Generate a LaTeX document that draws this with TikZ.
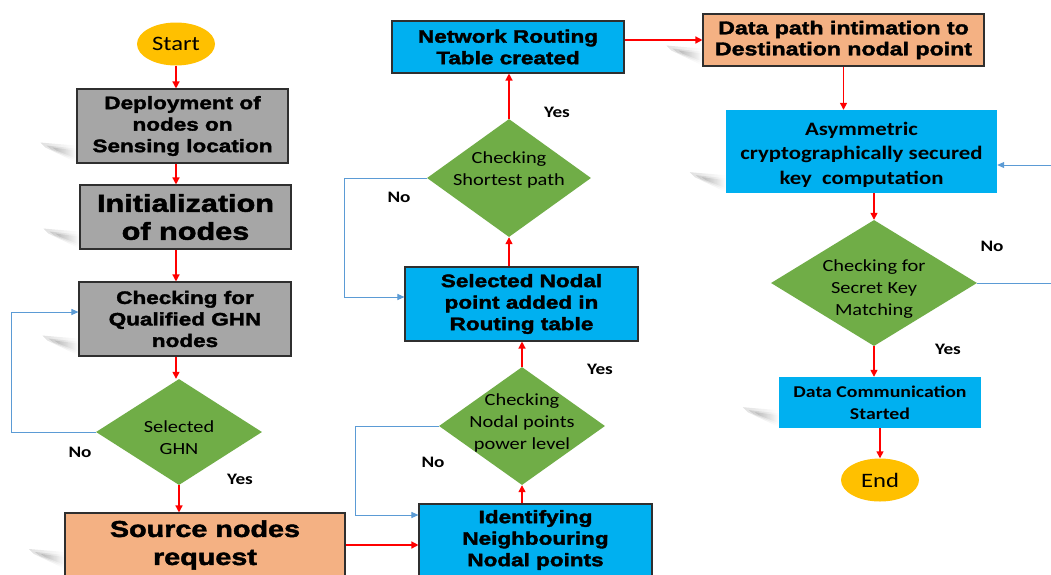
\documentclass[tikz,border=0pt]{standalone}
\usepackage{fontspec}
\setmainfont{Carlito}[FakeStretch=1.2]
\newfontfamily\blk{Liberation Sans}[BoldFeatures={FakeBold=2,FakeStretch=1.25}]
\usetikzlibrary{shapes.geometric,arrows.meta,calc,fadings,backgrounds}
\definecolor{gbox}{HTML}{A6A6A6}
\definecolor{bbox}{HTML}{00B0F0}
\definecolor{sbox}{HTML}{F4B183}
\definecolor{dgreen}{HTML}{70AD47}
\definecolor{yell}{HTML}{FFC000}
\definecolor{loopc}{HTML}{5B9BD5}
\definecolor{edge}{HTML}{2F2F2F}
\tikzset{
  fbox/.style={rectangle, draw=edge, line width=1.1pt, align=center, inner sep=0pt},
  nobox/.style={rectangle, align=center, inner sep=0pt},
  h18/.style={font=\blk\bfseries\fontsize{18}{21.5}\selectfont},
  h17/.style={font=\blk\bfseries\fontsize{18.5}{21}\selectfont},
  h25/.style={font=\blk\bfseries\fontsize{24.5}{28}\selectfont},
  cal/.style={font=\bfseries\fontsize{19}{24.5}\selectfont},
  calr/.style={font=\fontsize{17}{22}\selectfont},
  dia/.style={diamond, fill=dgreen, inner sep=0pt},
  term/.style={ellipse, fill=yell, inner sep=0pt, minimum width=78pt, minimum height=43pt, font=\fontsize{20.5}{24}\selectfont},
  flow/.style={draw=red, line width=1.4pt, -{Triangle[length=7pt,width=7pt]}},
  loopl/.style={draw=loopc, line width=1pt, -{Triangle[length=7pt,width=6pt]}},
  lab/.style={font=\bfseries\fontsize{16}{20}\selectfont, inner sep=0pt},
  shadowfill/.style={fill=black, fill opacity=0.12, path fading=east},
}
\newcommand\shadowat[1]{%
  \path[shadowfill] ($#1+(0,-1)$) -- ++(0,-17) -- ++(-36,-3) -- ++(5,5) -- cycle;
  \path[shadowfill] ($#1+(0,-3)$) -- ++(0,-12) -- ++(-30,-3) -- ++(5,4) -- cycle;
  \path[shadowfill] ($#1+(0,-5)$) -- ++(0,-8) -- ++(-24,-3) -- ++(4,3) -- cycle;}
\newcommand\boxshadow[1]{\shadowat{(#1.south west)}}
\begin{document}
\begin{tikzpicture}[x=1pt,y=-1pt]
\useasboundingbox (0,0) rectangle (1051,574);

% column 1
\node[term] (start) at (176,44) {Start};
\node[fbox, fill=gbox, h18, minimum width=211pt, minimum height=74pt] (dep) at (182.5,126) {Deployment of\\nodes on\\Sensing location};
\node[fbox, fill=gbox, h25, minimum width=211pt, minimum height=64pt] (init) at (185.5,217) {Initialization\\of nodes};
\node[fbox, fill=gbox, h18, minimum width=212pt, minimum height=74pt] (qual) at (185,319) {Checking for\\Qualified GHN\\nodes};
\node[dia, minimum width=166pt, minimum height=106pt] (ghn) at (179,432) {};
\node[calr, inner sep=0pt, align=center] (ghnt) at (179,438) {Selected\\GHN};
\node[fbox, fill=sbox, font=\blk\bfseries\fontsize{23}{28}\selectfont, minimum width=280pt, minimum height=64pt] (src) at (205,545) {Source nodes\\request};

% column 2
\node[fbox, fill=bbox, h18, minimum width=233pt, minimum height=72pt] (ident) at (535.5,540) {Identifying\\Neighbouring\\Nodal points};
\node[dia, minimum width=166pt, minimum height=118pt] (pw) at (522,426) {};
\node[calr, align=center] (pwt) at (522,423) {Checking\\Nodal points\\power level};
\node[fbox, fill=bbox, h18, minimum width=233pt, minimum height=74pt] (sel) at (521.5,304) {Selected Nodal\\point added in\\Routing table};
\node[dia, minimum width=164pt, minimum height=118pt] (sp) at (509,178) {};
\node[calr, align=center] (spt) at (509,170) {Checking\\Shortest path};
\node[fbox, fill=bbox, h18, minimum width=232pt, minimum height=52pt] (net) at (508,47) {Network Routing\\Table created};

% column 3
\node[fbox, fill=sbox, h17, minimum width=281pt, minimum height=52pt] (dp) at (843.5,40) {Data path intimation to\\Destination nodal point};
\node[nobox, fill=bbox, cal, minimum width=271pt, minimum height=83pt] (asym) at (861.5,151.5) {};
\node[cal, align=center, inner sep=0pt] (asymt) at (861.5,154.5) {Asymmetric\\cryptographically secured\\key\ \ computation};
\node[dia, minimum width=206pt, minimum height=126pt] (sk) at (874,283) {};
\node[calr, align=center] (skt) at (874,289) {Checking for\\Secret Key\\Matching};
\node[nobox, fill=bbox, font=\bfseries\fontsize{16.5}{21.5}\selectfont, minimum width=202pt, minimum height=51pt] (dc) at (880,402.5) {Data Communication\\Started};
\node[term] (end) at (880,480) {End};

% shadows
\begin{scope}[on background layer]
\fill[white] (0,0) rectangle (1051,574);
\boxshadow{dep}
\boxshadow{init}
\boxshadow{qual}
\shadowat{(65,570)}
\boxshadow{dp}
\boxshadow{asym}
\boxshadow{dc}
\end{scope}

% labels
\node[lab] (l1) at (80,452) {No};
\node[lab] (l2) at (240,479) {Yes};
\node[lab] (l3) at (399,197) {No};
\node[lab] (l4) at (557,112) {Yes};
\node[lab] (l5) at (433,462) {No};
\node[lab] (l6) at (600,369) {Yes};
\node[lab] (l7) at (992,246) {No};
\node[lab] (l8) at (948,349) {Yes};

% flow arrows
\draw[flow] (start.south) -- (start.south |- dep.north);
\draw[flow] (dep.south -| start) -- (init.north -| start);
\draw[flow] (init.south -| start) -- (qual.north -| start);
\draw[flow] (qual.south -| start) -- (ghn.north -| start);
\draw[flow] (ghn.south) -- (src.north -| ghn);
\draw[flow] (src.east) -- (ident.west |- src.east);
\draw[flow] (ident.north -| pw) -- (pw.south);
\draw[flow] (pw.north) -- (sel.south -| pw);
\draw[flow] (sel.north -| sp) -- (sp.south);
\draw[flow] (sp.north) -- (net.south -| sp);
\draw[flow] (net.east |- dp.west) -- (dp.west);
\draw[flow] (dp.south) -- (asym.north -| dp);
\draw[flow] (asym.south -| sk) -- (sk.north);
\draw[flow] (sk.south) -- (dc.north -| sk);
\draw[flow] (dc.south -| end) -- (end.north);

% loops
\draw[loopl] (ghn.west) -- ++(-84,0) |- ($(qual.west)+(0,-7)$);
\draw[loopl] (pw.west) -- ++(-83,0) |- ($(ident.west)+(0,-25)$);
\draw[loopl] (sp.west) -- ++(-82,0) |- ($(sel.west)+(0,-7)$);
\draw[loopl] (sk.east) -- ++(84,0) |- ($(asym.east)+(0,13.5)$);
\end{tikzpicture}
\end{document}
